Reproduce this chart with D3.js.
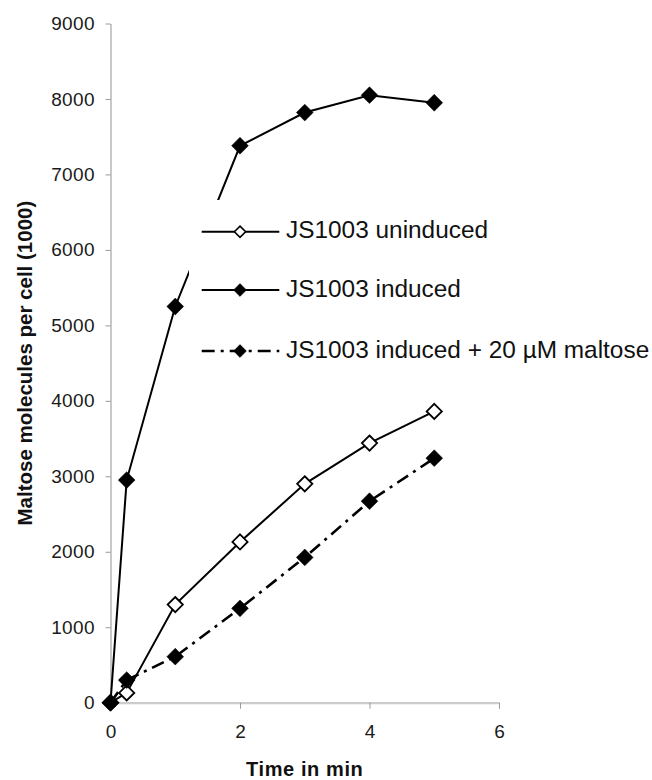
<!DOCTYPE html>
<html>
<head>
<meta charset="utf-8">
<script src="https://cdn.jsdelivr.net/npm/d3@7"></script>
<style>
  html, body { margin: 0; padding: 0; background: #fff; }
  svg { display: block; font-family: "Liberation Sans", Arial, Helvetica, sans-serif; }
</style>
</head>
<body>
<svg id="chart" width="652" height="780"></svg>
<script>
// ---- data ----
const times = [0, 0.25, 1, 2, 3, 4, 5];
const uninduced = [0, 130, 1300, 2130, 2900, 3440, 3860];
const induced = [0, 2950, 5250, 7380, 7820, 8050, 7950];
const inducedMaltose = [0, 300, 610, 1250, 1925, 2670, 3240];
const seriesNames = ["JS1003 uninduced", "JS1003 induced", "JS1003 induced + 20 \u00B5M maltose"];
const xTicks = [0, 2, 4, 6];
const yTicks = [0, 1000, 2000, 3000, 4000, 5000, 6000, 7000, 8000, 9000];
const xTitle = "Time in min";
const yTitle = "Maltose molecules per cell (1000)";

// ---- layout ----
const svg = d3.select("#chart");
const x = d3.scaleLinear().domain([0, 6]).range([110.5, 499]);
const y = d3.scaleLinear().domain([0, 9000]).range([702.7, 23.5]);

// axes
const yAxis = svg.append("g")
  .attr("transform", `translate(${x(0)},0)`)
  .call(d3.axisLeft(y).tickValues(yTicks).tickSize(5).tickSizeOuter(0).tickPadding(10.5).tickFormat(d3.format("d")));
yAxis.select(".domain").attr("stroke", "#aaa").attr("stroke-width", 1.3);
yAxis.selectAll(".tick line").attr("stroke", "#999").attr("stroke-width", 1);
yAxis.selectAll(".tick text")
  .attr("font-size", 19).attr("fill", "#1a1a1a")
  .attr("font-family", "'Liberation Sans', Arial, sans-serif")
  .attr("letter-spacing", 0.4);

const xAxis = svg.append("g")
  .attr("transform", `translate(0,${y(0)})`)
  .call(d3.axisBottom(x).tickValues(xTicks).tickSize(6).tickSizeOuter(0).tickPadding(16.3).tickFormat(d3.format("d")));
xAxis.select(".domain").attr("stroke", "#ccc").attr("stroke-width", 2.2);
xAxis.selectAll(".tick line").attr("stroke", "#999").attr("stroke-width", 1);
xAxis.selectAll(".tick text")
  .attr("font-size", 19).attr("fill", "#1a1a1a")
  .attr("font-family", "'Liberation Sans', Arial, sans-serif");

// titles
svg.append("text")
  .attr("x", (x(0) + x(6)) / 2).attr("y", 776)
  .attr("text-anchor", "middle")
  .attr("font-weight", "bold").attr("font-size", 20).attr("letter-spacing", 0.6)
  .attr("fill", "#111")
  .text(xTitle);

svg.append("text")
  .attr("transform", `translate(32,${(y(0) + y(9000)) / 2}) rotate(-90)`)
  .attr("text-anchor", "middle")
  .attr("font-weight", "bold").attr("font-size", 20.5)
  .attr("fill", "#111")
  .text(yTitle);

// series
const series = [
  { name: seriesNames[0], values: uninduced, fill: "#fff", dash: null, width: 2 },
  { name: seriesNames[1], values: induced, fill: "#000", dash: null, width: 2 },
  { name: seriesNames[2], values: inducedMaltose, fill: "#000", dash: "13,6,3,6", width: 2.6 }
];

const line = d3.line().x((d, i) => x(times[i])).y(d => y(d));
const diamond = (r) => `M0,${-r}L${r},0L0,${r}L${-r},0Z`;

series.forEach(s => {
  svg.append("path")
    .datum(s.values)
    .attr("d", line)
    .attr("fill", "none")
    .attr("stroke", "#000")
    .attr("stroke-width", s.width)
    .attr("stroke-dasharray", s.dash);
});
series.forEach(s => {
  svg.append("g").selectAll("path")
    .data(s.values)
    .join("path")
    .attr("transform", (d, i) => `translate(${x(times[i])},${y(d)})`)
    .attr("d", diamond(s.fill === "#fff" ? 7.6 : 8.4))
    .attr("fill", s.fill)
    .attr("stroke", "#000")
    .attr("stroke-width", s.fill === "#fff" ? 1.8 : 0.5);
});

// legend (white box hides the line behind it)
const legend = svg.append("g");
legend.append("rect")
  .attr("x", 189).attr("y", 200).attr("width", 463).attr("height", 175)
  .attr("fill", "#fff");
const legendY = [231.7, 290, 351];
series.forEach((s, i) => {
  const g = legend.append("g").attr("transform", `translate(0,${legendY[i]})`);
  g.append("line")
    .attr("x1", 201.7).attr("x2", 279.3).attr("y1", 0).attr("y2", 0)
    .attr("stroke", "#000").attr("stroke-width", s.width)
    .attr("stroke-dasharray", s.dash);
  g.append("path")
    .attr("transform", "translate(240,0)")
    .attr("d", diamond(s.fill === "#fff" ? 5.6 : 6.4))
    .attr("fill", s.fill).attr("stroke", "#000")
    .attr("stroke-width", s.fill === "#fff" ? 1.6 : 0.5);
  g.append("text")
    .attr("x", 286).attr("y", 6.5)
    .attr("font-size", 24.4).attr("fill", "#111")
    .text(s.name);
});
</script>
</body>
</html>
